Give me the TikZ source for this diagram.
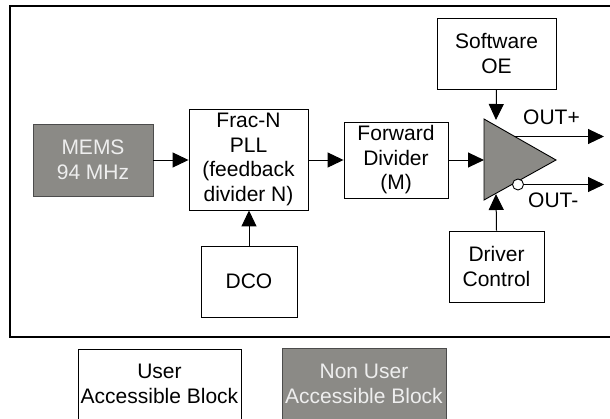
\documentclass[tikz,border=0pt]{standalone}
\usepackage{fontspec}
\setmainfont{Liberation Sans}
\usetikzlibrary{arrows.meta}
\definecolor{blkgray}{HTML}{8B8A86}
\definecolor{lighttxt}{HTML}{EEEEEE}
\begin{document}
\begin{tikzpicture}[x=1pt,y=-1pt,
  txt/.style={font=\fontsize{21}{24.5}\selectfont, align=center, inner sep=0pt},
  blk/.style={txt, draw=black, line width=0.9pt, fill=white},
  darkblk/.style={txt, draw=black!70, line width=0.9pt, fill=blkgray, text=lighttxt},
  conn/.style={line width=1pt, -{Triangle[length=16pt,width=15pt]}}]
\useasboundingbox (0,0) rectangle (610,418);
% frame
\draw[line width=1.7pt] (612,6) -- (10,6) -- (10,337) -- (612,337);
% blocks
\node[darkblk, minimum width=120pt, minimum height=72pt] (mems) at (93,160) {MEMS\\94 MHz};
\node[blk, minimum width=119pt, minimum height=101pt] (pll) at (248.5,159.5) {Frac-N\\PLL\\(feedback\\divider N)};
\node[blk, minimum width=96pt, minimum height=71pt] (dco) at (249,281.5) {DCO};
\node[blk, minimum width=104pt, minimum height=76pt] (fd) at (396,160) {Forward\\Divider\\(M)};
\node[blk, minimum width=119pt, minimum height=71pt] (soe) at (496.5,53.5) {Software\\OE};
\node[blk, minimum width=95pt, minimum height=71pt] (dc) at (496.5,266.5) {Driver\\Control};
% driver triangle
\coordinate (tl) at (484,119);
\coordinate (tb) at (484,200);
\coordinate (tip) at (556,160);
\draw[line width=0.9pt, fill=blkgray] (tl) -- (tip) -- (tb) -- cycle;
\coordinate (tin) at (484,160);
\coordinate (ttop) at (496,120);
\coordinate (tbot) at (496,194);
\coordinate (op1) at (514,136.5);
\coordinate (oend1) at (604,136.5);
\coordinate (oend2) at (604,184.5);
\node[circle, draw=black, fill=white, line width=0.9pt, minimum size=11pt, inner sep=0pt] (bub) at (518,184.5) {};
% connectors
\draw[conn] (mems.east) -- (mems.east -| pll.west);
\draw[conn] (dco.north) -- (dco.north |- pll.south);
\draw[conn] (pll.east |- fd.west) -- (fd.west);
\draw[conn] (fd.east) -- (tin);
\draw[conn] (soe.south) -- (ttop);
\draw[conn] (dc.north) -- (tbot);
\draw[conn] (op1) -- (oend1);
\draw[conn] (bub.east) -- (oend2);
% labels
\node[txt, anchor=base west] (outp) at (523,124) {OUT+};
\node[txt, anchor=base west] (outm) at (528,207) {OUT-};
% legend
\draw[line width=0.9pt] (78,430) -- (78,349) -- (241,349) -- (241,430);
\node[txt] (leg1) at (159.5,384) {User\\Accessible Block};
\fill[blkgray] (282,348) rectangle (446,430);
\draw[line width=0.9pt, draw=black!70] (282,430) -- (282,348) -- (446,348) -- (446,430);
\node[txt, text=lighttxt] (leg2) at (364,384) {Non User\\Accessible Block};
\end{tikzpicture}
\end{document}
